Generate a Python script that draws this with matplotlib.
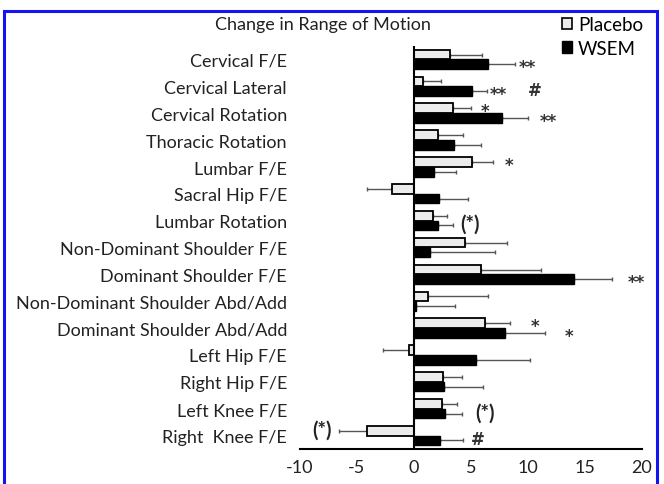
import numpy as np
import matplotlib
matplotlib.use('Agg')
import matplotlib.pyplot as plt
from matplotlib.patches import Patch, Rectangle

plt.rcParams['font.family'] = ['Lato', 'DejaVu Sans']

# joint names, top to bottom
joints = ['Cervical F/E', 'Cervical Lateral', 'Cervical Rotation', 'Thoracic Rotation',
          'Lumbar F/E', 'Sacral Hip F/E', 'Lumbar Rotation', 'Non-Dominant Shoulder F/E',
          'Dominant Shoulder F/E', 'Non-Dominant Shoulder Abd/Add', 'Dominant Shoulder Abd/Add',
          'Left Hip F/E', 'Right Hip F/E', 'Left Knee F/E', 'Right  Knee F/E']

placebo = [3.2, 0.8, 3.45, 2.1, 5.05, -1.95, 1.7, 4.45, 5.9, 1.2, 6.2, -0.4, 2.5, 2.45, -4.1]
placebo_err = [2.8, 1.6, 1.55, 2.2, 1.85, 2.2, 1.2, 3.75, 5.2, 5.3, 2.25, 2.3, 1.7, 1.35, 2.5]
wsem = [6.5, 5.1, 7.7, 3.5, 1.75, 2.2, 2.1, 1.4, 14.0, 0.2, 7.95, 5.4, 2.6, 2.75, 2.3]
wsem_err = [2.4, 1.3, 2.3, 2.4, 1.95, 2.5, 1.3, 5.7, 3.4, 3.4, 3.55, 4.8, 3.45, 1.45, 2.0]

# significance marks: (text, row, series, x position)
marks = [('**', 0, 'w', 9.9), ('**', 1, 'w', 7.4), ('#', 1, 'w', 10.6),
         ('*', 2, 'p', 6.2), ('**', 2, 'w', 11.8), ('*', 4, 'p', 8.3),
         ('(*)', 6, 'w', 4.9), ('**', 8, 'w', 19.5), ('*', 10, 'p', 10.6),
         ('*', 10, 'w', 13.6), ('(*)', 13, 'w', 6.2), ('(*)', 14, 'p', -8.1),
         ('#', 14, 'w', 5.6)]

xticks = [-10, -5, 0, 5, 10, 15, 20]

fig = plt.figure(figsize=(6.64, 4.85), dpi=100)
ax = fig.add_axes([0.4518, 0.0722, 0.5151, 0.8309])

y = np.arange(len(joints))
h = 0.36
off = 0.18

def one_sided(vals, errs):
    vals = np.array(vals)
    errs = np.array(errs)
    lo = np.where(vals < 0, errs, 0)
    hi = np.where(vals >= 0, errs, 0)
    return [lo, hi]

ax.barh(y - off, placebo, height=h, color='#ececec', edgecolor='black', linewidth=1.3,
        label='Placebo', zorder=3)
ax.barh(y + off, wsem, height=h, color='black', edgecolor='black', linewidth=1.0,
        label='WSEM', zorder=3)
ax.errorbar(placebo, y - off, xerr=one_sided(placebo, placebo_err), fmt='none',
            ecolor='#555555', elinewidth=1, capsize=1.5, zorder=2)
ax.errorbar(wsem, y + off, xerr=one_sided(wsem, wsem_err), fmt='none',
            ecolor='#555555', elinewidth=1, capsize=1.5, zorder=2)

for txt, row, ser, xv in marks:
    yy = row - off if ser == 'p' else row + off
    if txt == '(*)':
        ax.text(xv, yy - 0.05, txt, ha='center', va='center', fontsize=14.5, fontweight='bold',
                color='#222222')
    elif txt == '#':
        ax.text(xv, yy - 0.05, txt, ha='center', va='center', fontsize=12, fontweight='bold',
                color='#333333', family='DejaVu Sans')
    else:
        ax.text(xv, yy + 0.1, txt, ha='center', va='center', fontsize=12, fontweight='bold',
                color='#333333', family='DejaVu Sans')

ax.axvline(0, color='black', linewidth=1.5, zorder=4)
ax.set_xlim(-10, 20)
ax.set_ylim(len(joints) - 0.5, -0.5)
ax.set_yticks(y)
ax.set_yticklabels(joints, fontsize=13, color='#222222')
ax.set_xticks(xticks)
ax.set_xticklabels([str(t) for t in xticks], fontsize=13, color='#222222')
ax.tick_params(axis='y', length=0, pad=9.4)
ax.tick_params(axis='x', length=0, pad=7)
for s in ['top', 'right', 'left']:
    ax.spines[s].set_visible(False)
ax.spines['bottom'].set_linewidth(1.5)

fig.text(0.487, 0.948, 'Change in Range of Motion', ha='center', va='center', fontsize=13,
         color='#222222')

handles = [Patch(facecolor='#ececec', edgecolor='black', linewidth=1.2, label='Placebo'),
           Patch(facecolor='black', edgecolor='black', label='WSEM')]
fig.legend(handles=handles, loc='upper right', bbox_to_anchor=(0.98, 0.98), frameon=False,
           fontsize=13.5, handlelength=0.55, handleheight=0.55, handletextpad=0.3,
           labelspacing=0.35, borderaxespad=0)

fig.patches.append(Rectangle((0.006, -0.02), 0.9835, 0.9953, transform=fig.transFigure,
                             fill=False, edgecolor='#1414f0', linewidth=2.2))

fig.savefig('out.png', dpi=100)
